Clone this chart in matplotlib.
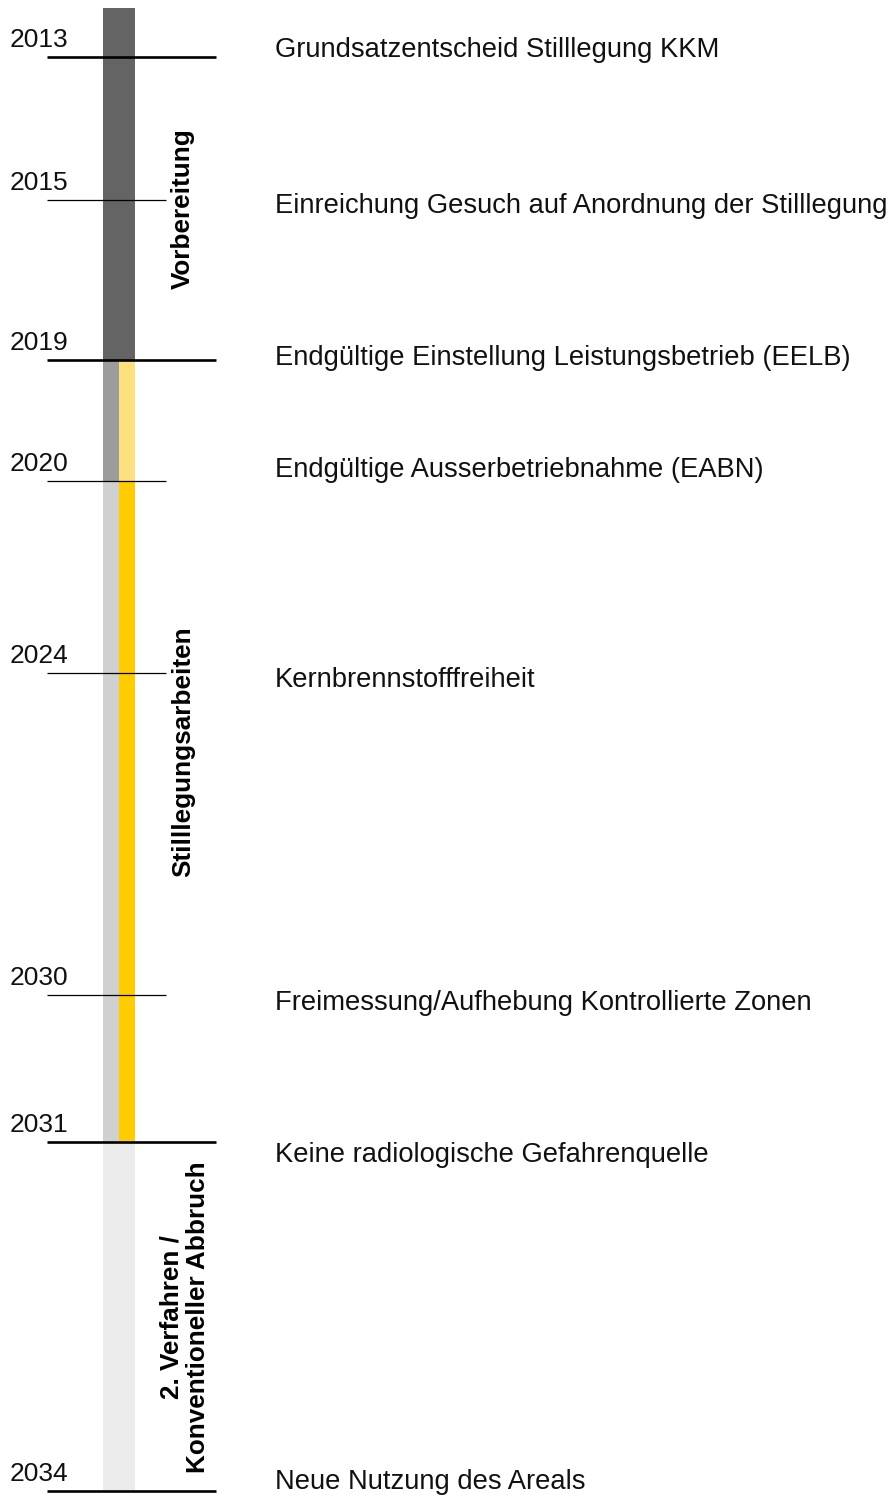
import matplotlib.pyplot as plt

plt.rcParams['font.family'] = ['Liberation Sans', 'DejaVu Sans']

# milestones
years = [2013, 2015, 2019, 2020, 2024, 2030, 2031, 2034]
events = [
    "Grundsatzentscheid Stilllegung KKM",
    "Einreichung Gesuch auf Anordnung der Stilllegung",
    "Endgültige Einstellung Leistungsbetrieb (EELB)",
    "Endgültige Ausserbetriebnahme (EABN)",
    "Kernbrennstofffreiheit",
    "Freimessung/Aufhebung Kontrollierte Zonen",
    "Keine radiologische Gefahrenquelle",
    "Neue Nutzung des Areals",
]
major = [True, False, True, False, False, False, True, True]

# phases
phases = ["Vorbereitung", "Stilllegungsarbeiten", "2. Verfahren /\nKonventioneller Abbruch"]

# bar segments: (start, end, left colour, right colour)
seg_start = [2012, 2019, 2020, 2031]
seg_end = [2019, 2020, 2031, 2034]
seg_left = ['#646464', '#9c9c9c', '#d0d0d0', '#ececec']
seg_right = ['#646464', '#fde07f', '#ffcc00', '#ececec']

# schematic (non-linear) vertical layout of the timeline
ypos = {2012: 8, 2013: 57, 2015: 200, 2019: 360, 2020: 481, 2024: 673,
        2030: 995, 2031: 1142, 2034: 1491}
event_dy = [-7, 6, -2, -11, 7, 8, 13, -9]
phase_x = [183, 183, 185]
phase_yc = [209, 752, 1317]

fig = plt.figure(figsize=(8.92, 14.97), dpi=100)
ax = fig.add_axes([0, 0, 1, 1])
ax.set_xlim(0, 892)
ax.set_ylim(1497, 0)
ax.axis('off')

# bar
for s, e, cl, cr in zip(seg_start, seg_end, seg_left, seg_right):
    y0, y1 = ypos[s], ypos[e]
    ax.bar(111, y1 - y0, bottom=y0, width=16, color=cl, linewidth=0)
    ax.bar(127, y1 - y0, bottom=y0, width=16, color=cr, linewidth=0)

# year lines, labels, events
for yr, ev, mj, dy in zip(years, events, major, event_dy):
    y = ypos[yr]
    if mj:
        ax.plot([47, 216], [y, y], color='black', lw=1.9, solid_capstyle='butt')
    else:
        ax.plot([47, 166], [y, y], color='black', lw=0.9, solid_capstyle='butt')
    ax.text(10, y - 10, str(yr), fontsize=19, ha='left', va='baseline', color='#111111')
    ax.text(275, y + dy, ev, fontsize=19.7, ha='left', va='center', color='#111111')

# phase labels
for name, px, pyc in zip(phases, phase_x, phase_yc):
    ax.text(px, pyc, name, rotation=90, fontsize=18.8, fontweight='bold',
            ha='center', va='center', multialignment='center', linespacing=1.12)

fig.savefig('out.png', dpi=100)
